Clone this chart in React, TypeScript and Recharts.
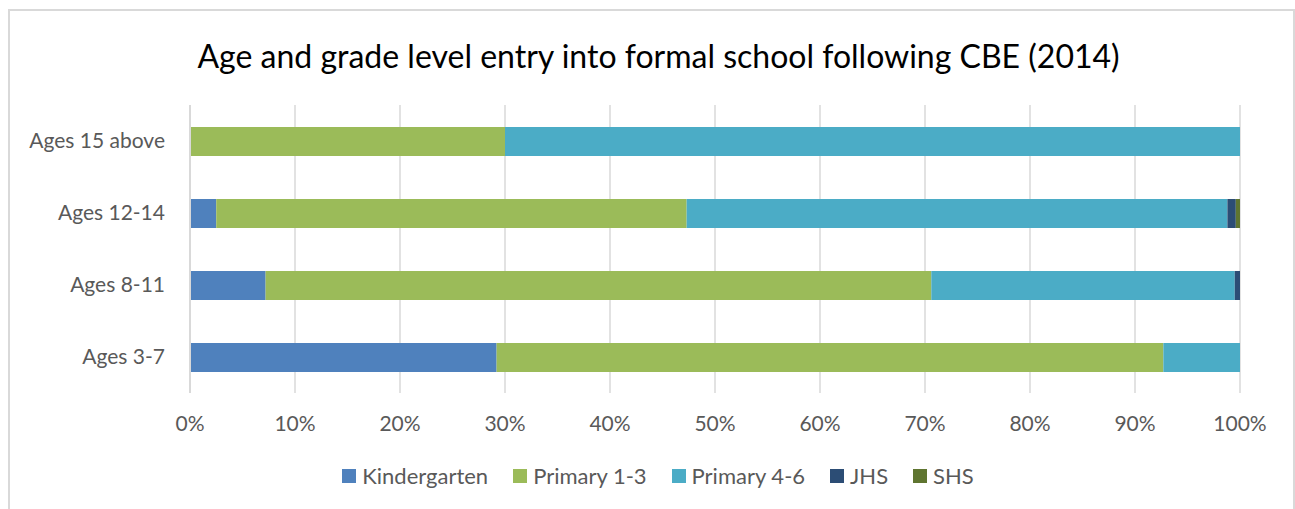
import { BarChart, Bar, XAxis, YAxis, CartesianGrid } from "recharts";

const categories = ["Ages 15 above", "Ages 12-14", "Ages 8-11", "Ages 3-7"];
const kindergarten = [0, 2.5, 7.2, 29.2];
const primary13 = [30.0, 44.8, 63.4, 63.5];
const primary46 = [70.0, 51.5, 28.9, 7.3];
const jhs = [0, 0.8, 0.5, 0];
const shs = [0, 0.4, 0, 0];
const percentTicks = [0, 10, 20, 30, 40, 50, 60, 70, 80, 90, 100];

const series = [
  { key: "kindergarten", name: "Kindergarten", color: "#4f81bd" },
  { key: "primary13", name: "Primary 1-3", color: "#9bbb59" },
  { key: "primary46", name: "Primary 4-6", color: "#4bacc6" },
  { key: "jhs", name: "JHS", color: "#2c4d75" },
  { key: "shs", name: "SHS", color: "#5f7530" },
];

const data = categories.map((c, i) => ({
  name: c,
  kindergarten: kindergarten[i],
  primary13: primary13[i],
  primary46: primary46[i],
  jhs: jhs[i],
  shs: shs[i],
}));

const font = "Lato, 'Open Sans', sans-serif";

export default function App() {
  return (
    <div
      style={{
        position: "fixed",
        top: 9,
        left: 8,
        right: 0,
        bottom: -20,
        border: "2px solid #d9d9d9",
        fontFamily: font,
        background: "#fff",
        overflow: "hidden",
      }}
    >
      <style>{"html, body { overflow: hidden; }"}</style>
      <div
        style={{
          position: "absolute",
          top: 25,
          left: 0,
          width: 1283,
          paddingLeft: 14,
          boxSizing: "border-box",
          textAlign: "center",
          fontSize: 32,
          color: "#000",
          whiteSpace: "nowrap",
        }}
      >
        Age and grade level entry into formal school following CBE (2014)
      </div>

      <BarChart
        width={1282}
        height={498}
        data={data}
        layout="vertical"
        margin={{ top: 94, right: 52, left: 0, bottom: 86 }}
        barSize={29}
      >
        <CartesianGrid horizontal={false} stroke="#d9d9d9" strokeWidth={1.5} />
        <XAxis
          type="number"
          domain={[0, 100]}
          ticks={percentTicks}
          tickFormatter={(v) => `${v}%`}
          axisLine={false}
          tickLine={false}
          tickSize={0}
          tickMargin={23}
          tick={{ fill: "#595959", fontSize: 21, fontFamily: font }}
          interval={0}
        />
        <YAxis
          type="category"
          dataKey="name"
          width={180}
          axisLine={{ stroke: "#d9d9d9", strokeWidth: 2 }}
          tickLine={false}
          tickSize={0}
          tickMargin={25}
          tick={{ fill: "#595959", fontSize: 21, fontFamily: font }}
        />
        {series.map((s) => (
          <Bar
            key={s.key}
            dataKey={s.key}
            name={s.name}
            stackId="a"
            fill={s.color}
            isAnimationActive={false}
          />
        ))}
      </BarChart>

      <div
        style={{
          position: "absolute",
          top: 451,
          left: 0,
          width: 1283,
          display: "flex",
          justifyContent: "center",
          paddingLeft: 38,
          boxSizing: "border-box",
          fontSize: 22,
          color: "#595959",
        }}
      >
        {series.map((s) => (
          <div
            key={s.key}
            style={{ display: "flex", alignItems: "center", marginRight: 25 }}
          >
            <span
              style={{
                display: "inline-block",
                width: 14,
                height: 14,
                background: s.color,
                marginRight: 6,
              }}
            />
            <span>{s.name}</span>
          </div>
        ))}
      </div>
    </div>
  );
}
